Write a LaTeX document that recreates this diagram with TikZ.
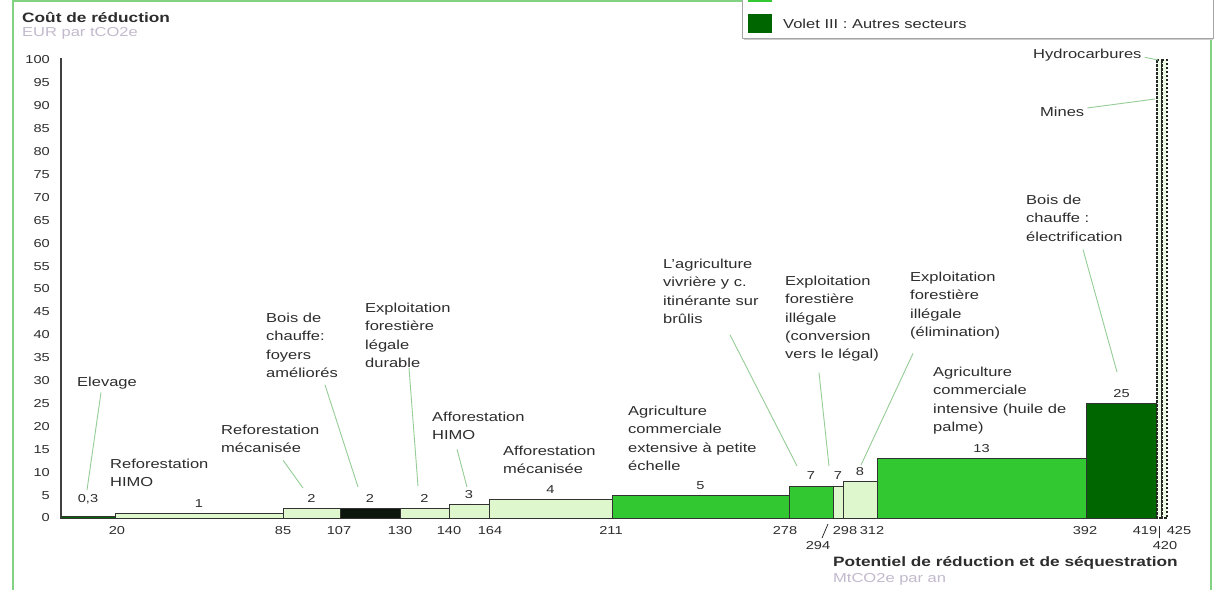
\documentclass[tikz,border=0pt]{standalone}
\usepackage{fontspec}
\setmainfont{Liberation Sans}[FakeStretch=1.27]
\definecolor{framegreen}{RGB}{130,210,130}
\definecolor{palebar}{RGB}{222,247,205}
\definecolor{midbar}{RGB}{50,200,50}
\definecolor{darkbar}{RGB}{0,102,0}
\definecolor{blackbar}{RGB}{12,22,12}
\definecolor{leadgreen}{RGB}{150,205,150}
\definecolor{unitgrey}{RGB}{195,185,205}
\definecolor{txt}{RGB}{45,45,45}
\tikzset{
    every node/.style={inner sep=0pt, text=txt,
    	font=\fontsize{13}{18.3}\selectfont}
}
\tikzset{
    lbl/.style={anchor=north west, align=left},
    ttl/.style={font=\fontsize{13.6}{15}\selectfont\bfseries},
    val/.style={anchor=base, font=\fontsize{11.5}{13}\selectfont},
    tick/.style={anchor=north, font=\fontsize{11.5}{13}\selectfont},
    ytick/.style={anchor=east, font=\fontsize{11.5}{13}\selectfont},
    bar/.style={draw=black!80, line width=0.8pt},
    leader/.style={draw=leadgreen, line width=0.9pt},
    tickline/.style={draw=txt, line width=0.8pt},
    dashcol/.style={draw=black!85, line width=1.4pt, dash pattern=on 2.5pt off 1.5pt}
}

\begin{document}
\begin{tikzpicture}[x=1pt,y=-1pt]
	\useasboundingbox (0,0) rectangle (1217,589);
	\fill[white] (0,0) rectangle (1217,589);
	\draw[framegreen, line width=2pt] (13,1) rectangle (1211,600);

	% legend
	\draw[black!35, fill=white] (742,-5) rectangle (1213,38);
	\draw[black!20, line width=1.5pt] (744,39.5) -- (1213,39.5);
	\fill[midbar] (748,-10) rectangle (772,2);
	\fill[darkbar] (748,14) rectangle (772,33);
	\node[anchor=west] (leg3) at (783,24) {Volet III : Autres secteurs};

	% axes
	\node[anchor=west, ttl] (ytitle) at (22,17) {Coût de réduction};
	\node[anchor=west, text=unitgrey] (yunit) at (22,33) {EUR par tCO2e};
	\draw[black!75, line width=1.5pt] (61,58) -- (61,518) -- (1157,518);
	\foreach \yv in {0,5,...,100}
		\node[ytick] (y\yv) at (50,{518-4.58*\yv}) {\yv};

	% bars
	\foreach \xa/\xb/\val/\lab/\col/\dy [count=\i] in {
		61/115/0.3/{0,3}/darkbar/14, 115/283/1/1/palebar/6,
		283/340/2/2/palebar/6, 340/400/2/2/blackbar/6,
		400/449/2/2/palebar/6, 449/489/3/3/palebar/6,
		489/612/4/4/palebar/6, 612/789/5/5/midbar/6,
		789/833/7/7/midbar/6, 833/843/7/7/palebar/6,
		843/877/8/8/palebar/6, 877/1086/13/13/midbar/6,
		1086/1157/25/25/darkbar/6}
	{
		\draw[bar, fill=\col] (\xa,518) rectangle (\xb,{518-4.58*\val});
		\node[val] (v\i) at ({(\xa+\xb)/2},{518-4.58*\val-\dy}) {\lab};
	}
	\draw[dashcol, fill=palebar!50] (1157,60) rectangle (1162,518);
	\draw[dashcol, fill=palebar!50] (1162,60) rectangle (1167,518);

	\foreach \x/\t in {117/20, 283/85, 339/107, 400/130, 449/140, 490/164,
		611/211, 785/278, 845/298, 872/312, 1085/392, 1145/419, 1179/425}
		\node[tick] (x\t) at (\x,526) {\t};
	\node[tick] (x294) at (818,541) {294};
	\node[tick] (x420) at (1165,541) {420};
	\coordinate (c294) at (828,524);
	\coordinate (c420) at (1159,526);
	\draw[tickline] (x294.north) ++(4,-3) -- (c294);
	\draw[tickline] (x420.north) ++(-6,-3) -- (c420);

	\node[anchor=west, ttl] (xtitle) at (833,563)
		{Potentiel de réduction et de séquestration};
	\node[anchor=west, text=unitgrey] (xunit) at (833,579) {MtCO2e par an};

	% sector labels
	\node[lbl] (elev) at (77,377) {Elevage};
	\node[lbl] (rehimo) at (110,459) {Reforestation\\HIMO};
	\node[lbl] (remeca) at (221,425) {Reforestation\\mécanisée};
	\node[lbl] (boisfoy) at (266,313) {Bois de\\chauffe:\\foyers\\améliorés};
	\node[lbl] (exlegal) at (365,303) {Exploitation\\forestière\\légale\\durable};
	\node[lbl] (afhimo) at (432,412) {Afforestation\\HIMO};
	\node[lbl] (afmeca) at (503,446) {Afforestation\\mécanisée};
	\node[lbl] (agext) at (628,406)
		{Agriculture\\commerciale\\extensive à petite\\échelle};
	\node[lbl] (agviv) at (663,259)
		{L'agriculture\\vivrière y c.\\itinérante sur\\brûlis};
	\node[lbl] (exconv) at (785,276)
		{Exploitation\\forestière\\illégale\\(conversion\\vers le légal)};
	\node[lbl] (exelim) at (910,272)
		{Exploitation\\forestière\\illégale\\(élimination)};
	\node[lbl] (agint) at (933,367)
		{Agriculture\\commerciale\\intensive (huile de\\palme)};
	\node[lbl] (boisel) at (1026,195) {Bois de\\chauffe :\\électrification};
	\node[lbl] (mines) at (1040,107) {Mines};
	\node[lbl] (hydro) at (1033,49) {Hydrocarbures};

	\coordinate (p1) at (87,490);
	\coordinate (p2) at (303,488);
	\coordinate (p3) at (358,487);
	\coordinate (p4) at (418,486);
	\coordinate (p5) at (467,487);
	\coordinate (p6) at (797,466);
	\coordinate (p7) at (829,466);
	\coordinate (p8) at (861,465);
	\coordinate (p9) at (1117,372);
	\coordinate (p10) at (1155,99);
	\coordinate (p11) at (1158,60);

	\draw[leader] (elev.south west) ++(24,3) -- (p1);
	\draw[leader] (remeca.south west) ++(62,7) -- (p2);
	\draw[leader] (boisfoy.south west) ++(59,7) -- (p3);
	\draw[leader] (exlegal.south west) ++(44,0) -- (p4);
	\draw[leader] (afhimo.south west) ++(25,9) -- (p5);
	\draw[leader] (agviv.south west) ++(67,11) -- (p6);
	\draw[leader] (exconv.south west) ++(34,11) -- (p7);
	\draw[leader] (exelim.south west) ++(3,14) -- (p8);
	\draw[leader] (boisel.south west) ++(57,8) -- (p9);
	\draw[leader] (mines.east) ++(3,-4) -- (p10);
	\draw[leader] (hydro.east) ++(3,2) -- (p11);
\end{tikzpicture}
\end{document}
